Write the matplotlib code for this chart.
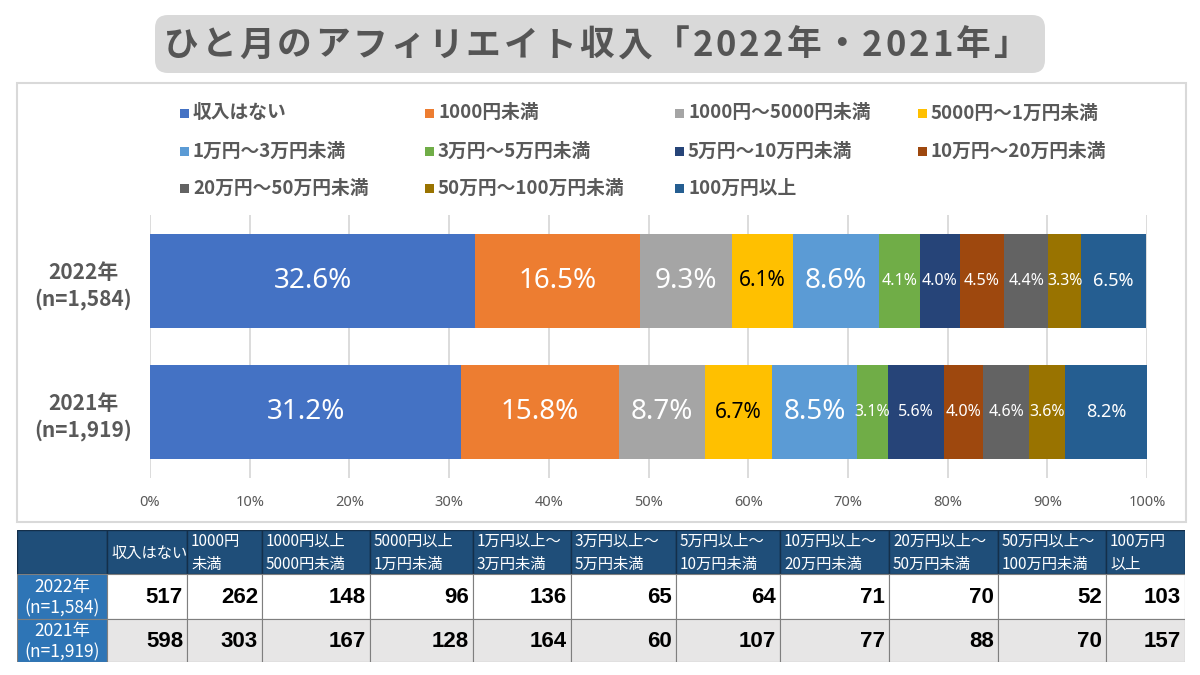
import matplotlib
matplotlib.use("Agg")
import matplotlib.pyplot as plt
from matplotlib.patches import FancyBboxPatch, Rectangle

# ---------------- data ----------------
title = "ひと月のアフィリエイト収入「2022年・2021年」"
categories = ["収入はない", "1000円未満", "1000円～5000円未満", "5000円～1万円未満",
              "1万円～3万円未満", "3万円～5万円未満", "5万円～10万円未満", "10万円～20万円未満",
              "20万円～50万円未満", "50万円～100万円未満", "100万円以上"]
table_headers = ["収入はない", "1000円\n未満", "1000円以上\n5000円未満", "5000円以上\n1万円未満",
                 "1万円以上～\n3万円未満", "3万円以上～\n5万円未満", "5万円以上～\n10万円未満",
                 "10万円以上～\n20万円未満", "20万円以上～\n50万円未満", "50万円以上～\n100万円未満",
                 "100万円\n以上"]
year_labels = ["2022年\n(n=1,584)", "2021年\n(n=1,919)"]
pct_2022 = [32.6, 16.5, 9.3, 6.1, 8.6, 4.1, 4.0, 4.5, 4.4, 3.3, 6.5]
pct_2021 = [31.2, 15.8, 8.7, 6.7, 8.5, 3.1, 5.6, 4.0, 4.6, 3.6, 8.2]
count_2022 = [517, 262, 148, 96, 136, 65, 64, 71, 70, 52, 103]
count_2021 = [598, 303, 167, 128, 164, 60, 107, 77, 88, 70, 157]
xtick_values = [0, 10, 20, 30, 40, 50, 60, 70, 80, 90, 100]

# ---------------- styles ----------------
colors = ["#4472C4", "#ED7D31", "#A5A5A5", "#FFC000", "#5B9BD5", "#70AD47",
          "#264478", "#9E480E", "#636363", "#997300", "#255E91"]
label_sizes = [20, 20, 20, 15, 20, 11.5, 11.5, 11.5, 11.5, 11.5, 13]
label_colors = ["white", "white", "white", "black", "white", "white",
                "white", "white", "white", "white", "white"]
CJK = ["Noto Sans CJK JP", "DejaVu Sans"]
GRAY_TXT = "#595959"

W, H = 1200, 675
fig = plt.figure(figsize=(12, 6.75), dpi=100)
fig.patch.set_facecolor("white")


def fx(x):
    return x / W


def fy(y):
    return 1 - y / H


# title box (in inches so corners are round)
tb = FancyBboxPatch((155 / 100, (H - 73) / 100), 890 / 100, 58 / 100,
                    boxstyle="round,pad=0,rounding_size=0.13",
                    transform=fig.dpi_scale_trans, facecolor="#d9d9d9",
                    edgecolor="none", zorder=0)
fig.add_artist(tb)

# title with letter spacing
renderer = fig.canvas.get_renderer()
title_kw = dict(fontsize=25, fontweight="bold", color="#555555", family=CJK,
                va="center", ha="left")
spacing_px = 3.0
chars = []
widths = []
for ch in title:
    t = fig.text(0, fy(45), ch, **title_kw)
    widths.append(t.get_window_extent(renderer).width)
    chars.append(t)
total = sum(widths) + spacing_px * (len(title) - 1)
xcur = 596 - total / 2
for t, w in zip(chars, widths):
    t.set_x(fx(xcur))
    xcur += w + spacing_px

# chart panel
panel = Rectangle((17 / 100, (H - 522) / 100), (1186 - 17) / 100, (522 - 83) / 100,
                  transform=fig.dpi_scale_trans, facecolor="white",
                  edgecolor="#d9d9d9", lw=1.5, zorder=0)
fig.add_artist(panel)

# legend (row-major, 4 columns)
leg_cols = [180, 425, 675, 918]
leg_rows = [113, 151, 188]
for i, cat in enumerate(categories):
    r, c = divmod(i, 4)
    x0, y0 = leg_cols[c], leg_rows[r]
    fig.add_artist(Rectangle((x0 / 100, (H - y0 - 4.5) / 100), 9 / 100, 9 / 100,
                             transform=fig.dpi_scale_trans, facecolor=colors[i],
                             edgecolor="none"))
    fig.text(fx(x0 + 13), fy(y0), cat, ha="left", va="center", fontsize=13.5,
             fontweight="bold", color=GRAY_TXT, family=CJK)

# bar axes
ax = fig.add_axes([fx(150), fy(478), 997 / W, (478 - 215) / H])
ypos = [0, 1]
left = [0.0, 0.0]
for i in range(len(categories)):
    vals = [pct_2022[i], pct_2021[i]]
    cont = ax.barh(ypos, vals, left=left, height=0.715, color=colors[i],
                   edgecolor="none", zorder=2)
    ax.bar_label(cont, labels=[f"{v:.1f}%" for v in vals], label_type="center",
                 color=label_colors[i], fontsize=label_sizes[i], family="Noto Sans")
    left = [left[0] + vals[0], left[1] + vals[1]]

ax.set_xlim(0, 100)
ax.set_ylim(1.5, -0.5)
ax.set_xticks(xtick_values)
ax.set_xticklabels([f"{v}%" for v in xtick_values], color=GRAY_TXT, fontsize=10.5,
                   family="Noto Sans")
ax.set_yticks(ypos)
ax.set_yticklabels(year_labels, family=CJK, fontsize=15, fontweight="bold",
                   color=GRAY_TXT, ha="center", linespacing=1.3)
ax.tick_params(axis="x", length=0, pad=12)
ax.tick_params(axis="y", length=0, pad=48)
ax.xaxis.grid(True, color="#d9d9d9", lw=1.3, zorder=0)
ax.set_axisbelow(True)
for s in ax.spines.values():
    s.set_visible(False)
ax.patch.set_alpha(0)

# table
col_bounds = [17, 107, 187, 262, 370, 473, 571, 676, 780, 889, 998, 1106, 1185]
row_bounds = [530, 574, 619, 662]
tab = fig.add_axes([fx(17), fy(662), (1185 - 17) / W, (662 - 530) / H])
tab.set_xlim(17, 1185)
tab.set_ylim(662, 530)
tab.axis("off")

# header row
for j in range(len(col_bounds) - 1):
    x0, x1 = col_bounds[j], col_bounds[j + 1]
    tab.add_patch(Rectangle((x0, row_bounds[0]), x1 - x0, row_bounds[1] - row_bounds[0],
                            facecolor="#1f4e79", edgecolor="#142f4a", lw=1.0))
    if j > 0:
        tab.text(x0 + 4, (row_bounds[0] + row_bounds[1]) / 2 + 1, table_headers[j - 1],
                 ha="left", va="center", fontsize=11, color="white", family=CJK,
                 linespacing=1.45)

rows = [count_2022, count_2021]
row_bg = ["white", "#e7e6e6"]
for r in range(2):
    y0, y1 = row_bounds[r + 1], row_bounds[r + 2]
    yc = (y0 + y1) / 2
    tab.add_patch(Rectangle((col_bounds[0], y0), col_bounds[1] - col_bounds[0], y1 - y0,
                            facecolor="#2e75b6", edgecolor="#7f7f7f", lw=0.8))
    tab.text((col_bounds[0] + col_bounds[1]) / 2, yc + 1, year_labels[r], ha="center",
             va="center", fontsize=12.5, color="white", family=CJK, linespacing=1.25)
    for j, v in enumerate(rows[r]):
        x0, x1 = col_bounds[j + 1], col_bounds[j + 2]
        tab.add_patch(Rectangle((x0, y0), x1 - x0, y1 - y0, facecolor=row_bg[r],
                                edgecolor="#7f7f7f", lw=0.8))
        tab.text(x1 - 4, yc + 1, f"{v}", ha="right", va="center", fontsize=16,
                 fontweight="bold", color="black", family="Liberation Sans")

fig.savefig("out.png", dpi=100, facecolor="white")
